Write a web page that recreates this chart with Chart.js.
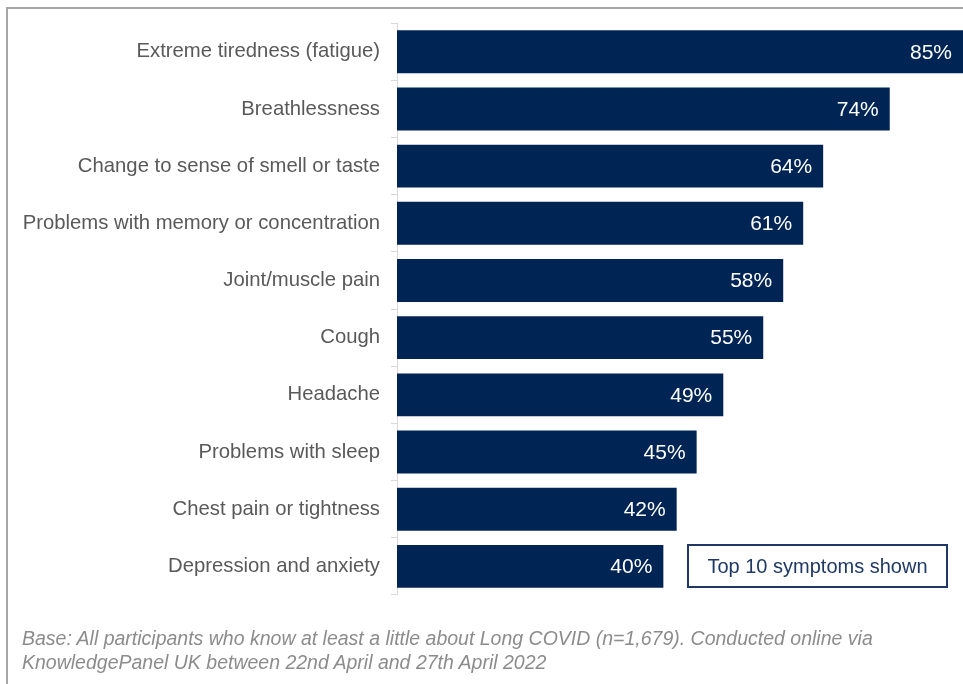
<!DOCTYPE html>
<html>
<head>
<meta charset="utf-8">
<script src="https://cdn.jsdelivr.net/npm/chart.js@4"></script>
<style>
  html, body { margin:0; padding:0; background:#fff; }
  body { width:963px; height:684px; position:relative; overflow:hidden; font-family:"Liberation Sans", Arial, sans-serif; }
  #frame { position:absolute; left:6px; top:7px; width:1000px; height:700px; border-left:2px solid #a6a6a6; border-top:2px solid #a6a6a6; }
  #wrap { position:absolute; left:0; top:0; width:963px; height:684px; }
  #note { position:absolute; left:22px; top:626px; font-size:19.5px; line-height:24px; font-style:italic; color:#8c8c8c; white-space:nowrap; }
  #box { position:absolute; left:687px; top:544px; width:257px; height:40px; border:2px solid #1f3864; box-sizing:content-box; color:#1f3864; font-size:20px; line-height:40px; text-align:center; }
</style>
</head>
<body>
<div id="frame"></div>
<div id="wrap"><canvas id="c" width="963" height="684"></canvas></div>
<div id="box">Top 10 symptoms shown</div>
<div id="note">Base: All participants who know at least a little about Long COVID (n=1,679). Conducted online via<br>KnowledgePanel UK between 22nd April and 27th April 2022</div>
<script>
const categories = [
  "Extreme tiredness (fatigue)",
  "Breathlessness",
  "Change to sense of smell or taste",
  "Problems with memory or concentration",
  "Joint/muscle pain",
  "Cough",
  "Headache",
  "Problems with sleep",
  "Chest pain or tightness",
  "Depression and anxiety"
];
const values = [85, 74, 64, 61, 58, 55, 49, 45, 42, 40];
const valueLabels = values.map(v => v + "%");

const valuePlugin = {
  id: 'valueLabels',
  afterDatasetsDraw(chart) {
    const ctx = chart.ctx;
    const meta = chart.getDatasetMeta(0);
    ctx.save();
    ctx.fillStyle = '#ffffff';
    ctx.font = '21px "Liberation Sans", Arial, sans-serif';
    ctx.textAlign = 'right';
    ctx.textBaseline = 'middle';
    meta.data.forEach((bar, i) => {
      ctx.fillText(valueLabels[i], bar.x - 11, bar.y + 1);
    });
    ctx.restore();
  }
};

new Chart(document.getElementById('c'), {
  type: 'bar',
  data: {
    labels: categories,
    datasets: [{
      data: values,
      backgroundColor: '#002554',
      borderWidth: 0,
      categoryPercentage: 0.75,
      barPercentage: 1.0
    }]
  },
  options: {
    indexAxis: 'y',
    responsive: false,
    animation: false,
    events: [],
    layout: { padding: { left: 0, right: 0, top: 23, bottom: 89 } },
    plugins: { legend: { display: false }, tooltip: { enabled: false } },
    scales: {
      x: { display: false, min: 0, max: 85 },
      y: {
        afterFit(scale) { scale.width = 397; },
        border: { display: true, color: '#d9d9d9', width: 1 },
        grid: { drawOnChartArea: false, drawTicks: true, tickLength: 6, color: '#d9d9d9', offset: true },
        ticks: {
          color: '#595959',
          font: { family: '"Liberation Sans", Arial, sans-serif', size: 20.3 },
          padding: 11,
          autoSkip: false
        }
      }
    }
  },
  plugins: [valuePlugin]
});
</script>
</body>
</html>
